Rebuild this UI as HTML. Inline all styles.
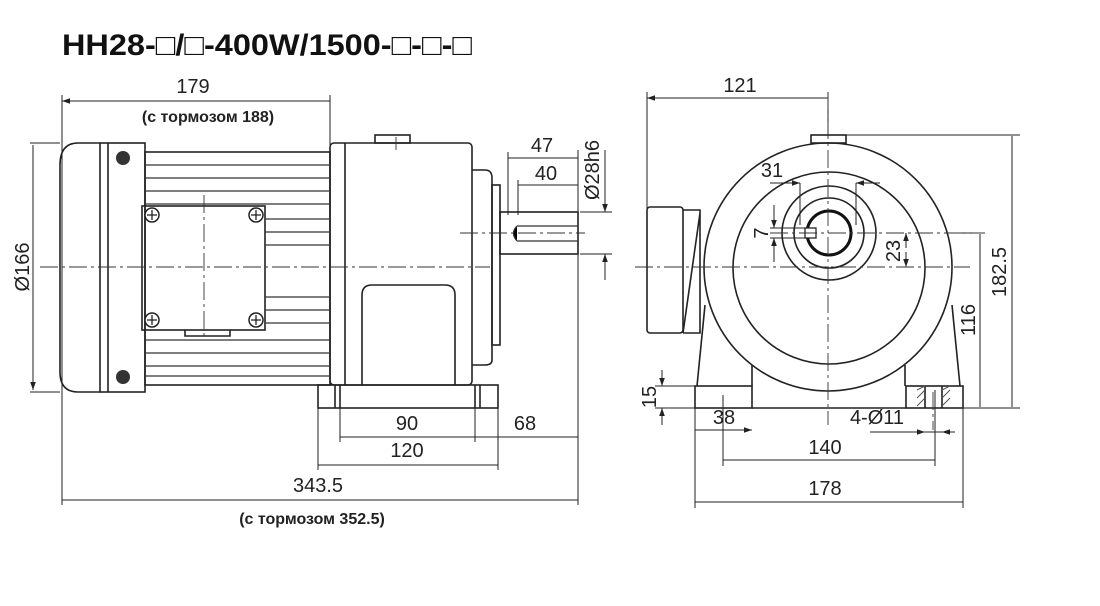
<!DOCTYPE html>
<html><head><meta charset="utf-8"><style>
html,body{margin:0;padding:0;background:#fff;width:1100px;height:606px;overflow:hidden}
svg{display:block}
text{font-family:"Liberation Sans",sans-serif;fill:#222;font-size:20px}
</style></head><body>
<svg width="1100" height="606" viewBox="0 0 1100 606" xmlns="http://www.w3.org/2000/svg">
<defs>
<marker id="a" viewBox="0 0 10 10" refX="10" refY="5" markerWidth="12" markerHeight="8" orient="auto-start-reverse" markerUnits="userSpaceOnUse"><path d="M0,1.5 L10,5 L0,8.5z" fill="#222"/></marker>
</defs>
<text x="62" y="55" textLength="410" lengthAdjust="spacingAndGlyphs" style="font-size:30px;font-weight:bold;fill:#111">HH28-□/□-400W/1500-□-□-□</text>

<g stroke="#222" fill="none" stroke-width="1">
<path d="M62 95V505M330 95V145M578 150V505M318 408V470M498 408V470M340 408V442M475 408V442M508 152V215M518 180V215M30 143H60M30 392H60M580 212H612M580 254H612"/>
<g marker-start="url(#a)" marker-end="url(#a)">
<path d="M62 101H330M62 500H578M318 465H498M340 437H475M475 437H578M508 158H578M518 185H578M33 145V390"/>
</g>
<path d="M605 150V212" marker-end="url(#a)"/><path d="M605 254V280" marker-start="url(#a)"/>
</g>

<g stroke="#222" fill="none" stroke-width="1.6">
<path d="M100 143H78Q60 143 60 165V372Q60 392 78 392H100"/>
<rect x="100" y="143" width="45" height="249"/>
<path d="M108 143V392"/>
<rect x="145" y="152" width="185" height="233"/>
<rect x="142" y="206" width="123" height="124"/>
<path d="M185 330V336H230V330"/>
<rect x="330" y="143" width="142" height="242" rx="4"/>
<path d="M345 143V385"/>
<rect x="375" y="135" width="35" height="8"/>
<path d="M362 385V295Q362 285 372 285H445Q455 285 455 295V385"/>
<path d="M472 170H485Q492 170 492 178V360Q492 365 485 365H472"/>
<rect x="492" y="185" width="8" height="160"/>
<rect x="500" y="212" width="78" height="42"/>
<rect x="318" y="385" width="180" height="23"/>
<path d="M340 385V408M475 385V408M335 385V408M480 385V408"/>
</g>
<g stroke="#333" stroke-width="1.2">
<path d="M145 165H330M145 178H330M145 191H330M145 204H330M265 219H330M265 232H330M265 245H330M265 297H330M265 310H330M265 323H330M145 340H330M145 353H330M145 366H330M145 376H330"/>
<path d="M517 226H578M517 241H578"/><path d="M517 226Q510 233 517 241"/>
</g>
<g fill="#333"><circle cx="123" cy="158" r="7"/><circle cx="123" cy="377" r="7"/></g>
<g fill="#fff" stroke="#222" stroke-width="1.5">
<circle cx="152" cy="215" r="7"/><circle cx="256" cy="215" r="7"/><circle cx="152" cy="320" r="7"/><circle cx="256" cy="320" r="7"/>
</g>
<g stroke="#222" stroke-width="1.3"><path d="M147 215h10M152 210v10M251 215h10M256 210v10M147 320h10M152 315v10M251 320h10M256 315v10"/></g>
<g stroke="#333" stroke-width="0.9" stroke-dasharray="18,4,3,4" fill="none">
<path d="M40 267H490M460 233H585M204 195V340M396 137V150"/>
</g>

<text x="193" y="93" text-anchor="middle">179</text>
<text x="208" y="122" text-anchor="middle" style="font-size:16px;font-weight:bold">(с тормозом 188)</text>
<text x="318" y="492" text-anchor="middle">343.5</text>
<text x="312" y="524" text-anchor="middle" style="font-size:16px;font-weight:bold">(с тормозом 352.5)</text>
<text x="407" y="457" text-anchor="middle">120</text>
<text x="407" y="430" text-anchor="middle">90</text>
<text x="525" y="430" text-anchor="middle">68</text>
<text x="542" y="152" text-anchor="middle">47</text>
<text x="546" y="180" text-anchor="middle">40</text>
<text transform="translate(29 267) rotate(-90)" text-anchor="middle">Ø166</text>
<text transform="translate(599 170) rotate(-90)" text-anchor="middle">Ø28h6</text>

<g stroke="#222" fill="none" stroke-width="1">
<path d="M647 92V210M828 92V135M846 135H1020M960 233H985M950 408H1020M695 408V508M963 408V508M723 395V466M935 390V466M655 386H700M655 408H700M870 432H955M770 183H800M856 183H880"/>
<g marker-start="url(#a)" marker-end="url(#a)">
<path d="M647 98H828M1012 136V407M980 234V407M723 460H935M695 502H963M695 430H752"/>
</g>
<path d="M906 248V233" marker-end="url(#a)"/><path d="M906 252V267" marker-end="url(#a)"/>
<path d="M662 370V386" marker-end="url(#a)"/><path d="M662 425V408" marker-end="url(#a)"/>
<path d="M774 205V228" marker-end="url(#a)"/><path d="M774 262V238" marker-end="url(#a)"/>
<path d="M905 432H925" marker-end="url(#a)"/><path d="M955 432H942" marker-end="url(#a)"/>
<path d="M785 183H800" marker-end="url(#a)"/><path d="M870 183H856" marker-end="url(#a)"/>
<path d="M770 228H808M770 238H808M800 183V225M856 183V225"/>
</g>
<g stroke="#222" fill="none" stroke-width="1.6">
<circle cx="828" cy="267" r="124"/>
<circle cx="829" cy="268" r="96"/>
<circle cx="829" cy="233" r="47"/>
<circle cx="829" cy="233" r="35"/>
<rect x="811" y="135" width="35" height="8"/>
<rect x="647" y="207" width="36" height="126" rx="3"/>
<path d="M683 210H700V333H683M683 333L700 213"/>
<path d="M705 305L697 386M752 365V386M952 305L960 386M905 365V386"/>
<rect x="695" y="386" width="57" height="22"/>
<rect x="906" y="386" width="57" height="22"/>
<path d="M752 408H906"/>
<path d="M925 386V408M942 386V408"/>
</g>
<circle cx="829" cy="233" r="22" stroke="#111" stroke-width="3" fill="#fff"/>
<rect x="805" y="228" width="11" height="10" fill="#fff" stroke="#222" stroke-width="1.3"/>
<g stroke="#555" stroke-width="1"><path d="M917 390l8-4M917 398l8-8M917 406l8-8M942 390l8-4M942 398l8-8M942 406l8-8"/></g>
<g stroke="#333" stroke-width="0.9" stroke-dasharray="18,4,3,4" fill="none">
<path d="M635 267H970M770 233H985M828 92V425M933 392V430"/>
</g>
<text x="740" y="92" text-anchor="middle">121</text>
<text x="772" y="177" text-anchor="middle">31</text>
<text transform="translate(768 233) rotate(-90)" text-anchor="middle">7</text>
<text transform="translate(900 251) rotate(-90)" text-anchor="middle">23</text>
<text transform="translate(975 320) rotate(-90)" text-anchor="middle">116</text>
<text transform="translate(1006 272) rotate(-90)" text-anchor="middle">182.5</text>
<text transform="translate(656 397) rotate(-90)" text-anchor="middle">15</text>
<text x="724" y="424" text-anchor="middle">38</text>
<text x="877" y="424" text-anchor="middle">4-Ø11</text>
<text x="825" y="454" text-anchor="middle">140</text>
<text x="825" y="495" text-anchor="middle">178</text>
</svg>
</body></html>
